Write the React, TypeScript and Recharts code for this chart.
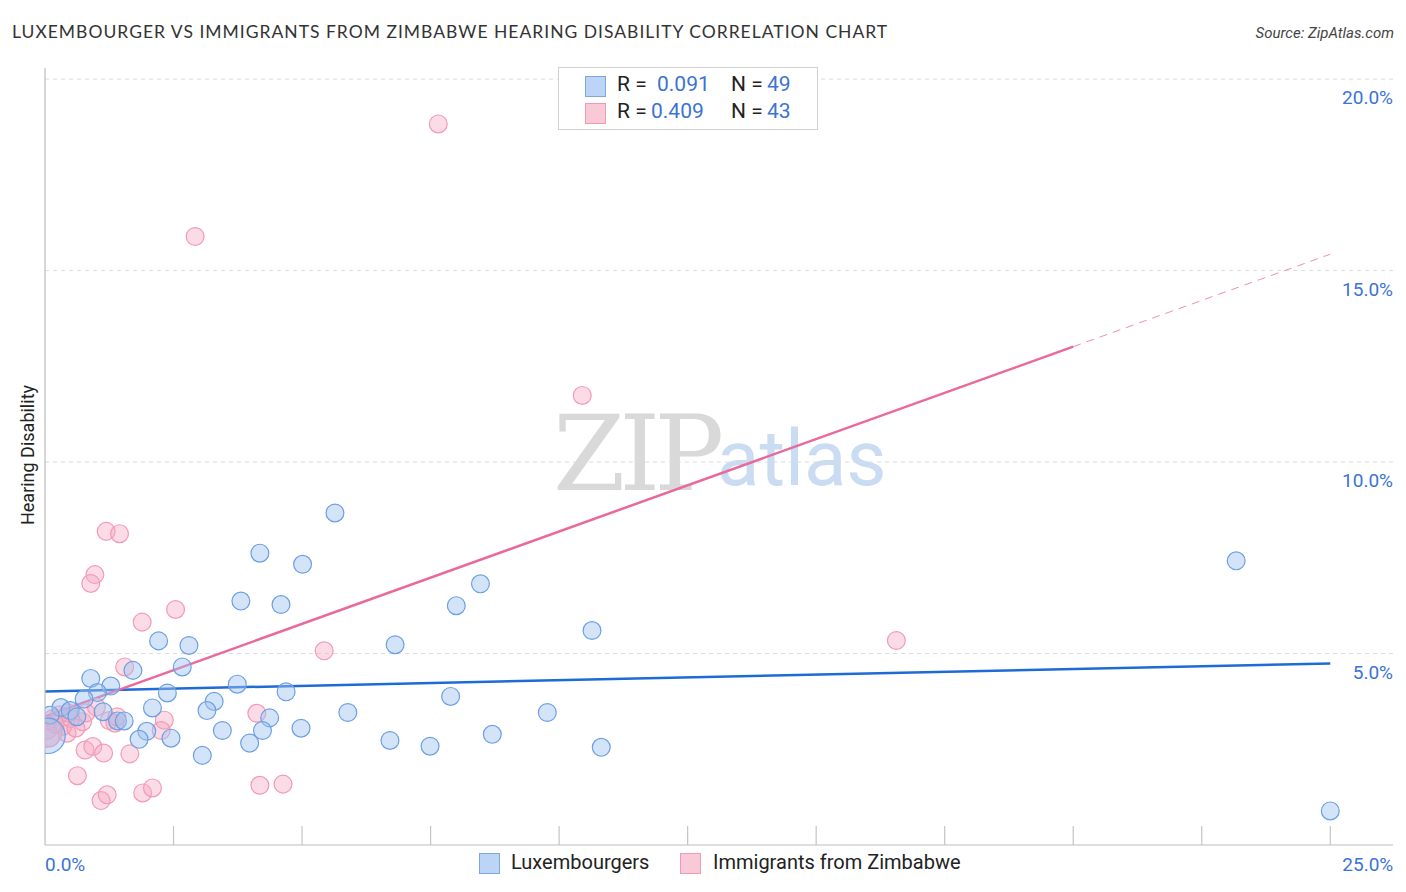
import React from 'react';
import {
    ScatterChart, Scatter, XAxis, YAxis, ZAxis, CartesianGrid, ReferenceLine
} from 'recharts';

// values (x = share of group %, y = hearing disability %)
const luxX = [5.64, 4.18, 5.01, 3.81, 4.59, 2.21, 2.80, 1.71, 2.67, 0.89, 3.74, 1.28, 1.02, 2.38, 4.69, 0.76, 2.09, 3.29, 3.15, 5.89, 4.37, 1.13, 1.41, 1.54, 3.45, 4.23, 4.98, 1.98, 1.83, 2.45, 3.98, 3.06, 6.81, 8.00, 8.47, 7.89, 6.71, 7.49, 8.70, 9.77, 10.64, 10.82, 23.17, 25.0, 0.31, 0.49, 0.10, 0.62, 0.05];
const luxY = [8.67, 7.62, 7.33, 6.37, 6.28, 5.33, 5.21, 4.56, 4.65, 4.35, 4.20, 4.15, 3.98, 3.97, 4.00, 3.81, 3.58, 3.75, 3.51, 3.46, 3.32, 3.48, 3.24, 3.24, 2.99, 2.99, 3.05, 2.97, 2.76, 2.79, 2.66, 2.34, 5.23, 6.25, 6.82, 3.88, 2.73, 2.58, 2.89, 3.46, 5.60, 2.55, 7.42, 0.89, 3.59, 3.51, 3.39, 3.35, 2.85];
const luxW = [1, 1, 1, 1, 1, 1, 1, 1, 1, 1, 1, 1, 1, 1, 1, 1, 1, 1, 1, 1, 1, 1, 1, 1, 1, 1, 1, 1, 1, 1, 1, 1, 1, 1, 1, 1, 1, 1, 1, 1, 1, 1, 1, 1, 1, 1, 1, 1, 4];

const zimX = [7.65, 2.92, 10.45, 16.56, 5.43, 4.12, 4.18, 4.63, 1.19, 1.45, 0.97, 0.89, 2.54, 1.89, 1.55, 2.32, 2.26, 0.78, 0.93, 1.14, 1.65, 0.63, 1.09, 1.21, 1.90, 2.09, 0.73, 1.36, 0.43, 0.15, 0.28, 0.05, 0.35, 0.50, 1.00, 0.80, 1.25, 0.10, 0.20, 1.40, 0.60, 0.03, 0.45];
const zimY = [18.83, 15.89, 11.74, 5.34, 5.07, 3.44, 1.56, 1.59, 8.19, 8.13, 7.06, 6.83, 6.15, 5.82, 4.65, 3.26, 2.99, 2.48, 2.57, 2.40, 2.38, 1.81, 1.16, 1.31, 1.36, 1.49, 3.22, 3.18, 2.92, 3.30, 3.40, 3.00, 3.10, 3.30, 3.60, 3.45, 3.25, 2.80, 3.15, 3.35, 3.05, 2.95, 3.45];
const zimW = [1, 1, 1, 1, 1, 1, 1, 1, 1, 1, 1, 1, 1, 1, 1, 1, 1, 1, 1, 1, 1, 1, 1, 1, 1, 1, 1, 1, 1, 1, 1, 1, 1, 1, 1, 1, 1, 1, 1, 1, 1, 3, 1];

// trend lines: [intercept, slope]
const luxTrend = [4.01, 0.0292];
const zimTrend = [3.36, 0.4827];

const xTicks = [0, 2.5, 5, 7.5, 10, 12.5, 15, 17.5, 20, 22.5, 25];
const yTicks = [0, 5, 10, 15, 20];

const luxData = luxX.map((x, i) => ({ x, y: luxY[i], z: luxW[i] }));
const zimData = zimX.map((x, i) => ({ x, y: zimY[i], z: zimW[i] }));
const at = (t: number[], x: number) => t[0] + t[1] * x;

const BLUE = '#3b73d6';
const FONT = 'Roboto, "Open Sans", sans-serif';

const XTick = (props: any) => {
    const { x, y, payload } = props;
    const v = payload.value;
    return (
        <g>
            {v > 0 && <line x1={x} x2={x} y1={y} y2={y - 19} stroke="#c4c4c4" strokeWidth={1.2} />}
            {v === 0 && <text x={x} y={y + 26} textAnchor="start" fill={BLUE} fontSize={19} fontFamily={FONT}>0.0%</text>}
            {v === 25 && <text x={x + 63} y={y + 26} textAnchor="end" fill={BLUE} fontSize={19} fontFamily={FONT}>25.0%</text>}
        </g>
    );
};

const YTick = (props: any) => {
    const { x, y, payload } = props;
    if (payload.value === 0) return null;
    return (
        <text x={x + 1348} y={y + 25} textAnchor="end" fill={BLUE} fontSize={19} fontFamily={FONT}>
            {payload.value.toFixed(1)}%
        </text>
    );
};

const sq = (fill: string, stroke: string) => ({
    display: 'inline-block', width: 19, height: 19, background: fill, border: `1px solid ${stroke}`,
});

export default function App() {
    return (
        <div style={{ position: 'absolute', left: 0, top: 0, width: 1406, height: 892, background: '#fff', fontFamily: FONT }}>
            <div style={{ position: 'absolute', left: 12, top: 21, fontSize: 17.5, color: '#333', fontFamily: 'Lato, sans-serif', letterSpacing: 1.0, whiteSpace: 'nowrap' }}>
                LUXEMBOURGER VS IMMIGRANTS FROM ZIMBABWE HEARING DISABILITY CORRELATION CHART
            </div>
            <div style={{ position: 'absolute', right: 12, top: 24, fontSize: 15, color: '#444', fontStyle: 'italic' }}>
                Source: ZipAtlas.com
            </div>
            <div style={{ position: 'absolute', left: 27, top: 455, transform: 'translate(-50%, -50%) rotate(-90deg)', fontSize: 18, color: '#222', whiteSpace: 'nowrap' }}>
                Hearing Disability
            </div>

            {/* watermark */}
            <div style={{ position: 'absolute', left: 553, top: 393, fontSize: 104, fontFamily: '"DejaVu Serif", serif', color: '#d9d9d9', letterSpacing: -6 }}>ZIP</div>
            <div style={{ position: 'absolute', left: 717, top: 413, fontSize: 78, fontFamily: FONT, color: '#c9dcf2' }}>atlas</div>

            <div style={{ position: 'absolute', left: 0, top: 0 }}>
                <ScatterChart width={1406} height={892} margin={{ top: 68, right: 13, bottom: 0, left: 0 }}>
                    <CartesianGrid vertical={false} strokeDasharray="4 4" stroke="#dcdcdc" horizontalValues={[5, 10, 15, 20]} />
                    <XAxis type="number" dataKey="x" domain={[0, 26.22]} ticks={xTicks} height={47} tickSize={0} tickMargin={0}
                        axisLine={{ stroke: '#bdbdbd', strokeWidth: 1.2 }} tickLine={false} tick={<XTick />} interval={0} allowDataOverflow />
                    <YAxis type="number" dataKey="y" domain={[0, 20.29]} ticks={yTicks} width={45} tickSize={0} tickMargin={0}
                        axisLine={{ stroke: '#bdbdbd', strokeWidth: 1.2 }} tickLine={false} tick={<YTick />} interval={0} allowDataOverflow />
                    <ZAxis type="number" dataKey="z" domain={[1, 4]} range={[250, 980]} />
                    <Scatter data={zimData} fill="rgba(246,170,195,0.42)" stroke="#f29ab7" strokeWidth={1.2} isAnimationActive={false} />
                    <Scatter data={luxData} fill="rgba(160,195,240,0.45)" stroke="#6d9fe3" strokeWidth={1.2} isAnimationActive={false} />
                    <ReferenceLine segment={[{ x: 0, y: at(luxTrend, 0) }, { x: 25, y: at(luxTrend, 25) }]} stroke="#1f6bd6" strokeWidth={2.5} ifOverflow="visible" />
                    <ReferenceLine segment={[{ x: 0, y: at(zimTrend, 0) }, { x: 20, y: at(zimTrend, 20) }]} stroke="#e9699b" strokeWidth={2.5} ifOverflow="visible" />
                    <ReferenceLine segment={[{ x: 20, y: at(zimTrend, 20) }, { x: 25, y: at(zimTrend, 25) }]} stroke="#ec8fb0" strokeWidth={1} strokeDasharray="8 6" ifOverflow="visible" />
                </ScatterChart>
            </div>

            {/* stats box */}
            <div style={{ position: 'absolute', left: 558, top: 67, width: 258, height: 61, border: '1px solid #d0d0d0', background: '#fff', fontSize: 21, color: '#222' }}>
                <div style={{ position: 'absolute', left: 26, top: 8, ...sq('#bcd5f6', '#7ea6e0') }} />
                <div style={{ position: 'absolute', left: 58, top: 4 }}>R = </div>
                <div style={{ position: 'absolute', left: 98, top: 4, color: BLUE }}>0.091</div>
                <div style={{ position: 'absolute', left: 172, top: 4 }}>N =</div>
                <div style={{ position: 'absolute', left: 208, top: 4, color: BLUE }}>49</div>
                <div style={{ position: 'absolute', left: 26, top: 35, ...sq('#fac9d8', '#f09ab6') }} />
                <div style={{ position: 'absolute', left: 58, top: 31 }}>R =</div>
                <div style={{ position: 'absolute', left: 92, top: 31, color: BLUE }}>0.409</div>
                <div style={{ position: 'absolute', left: 172, top: 31 }}>N =</div>
                <div style={{ position: 'absolute', left: 208, top: 31, color: BLUE }}>43</div>
            </div>

            {/* bottom legend */}
            <div style={{ position: 'absolute', left: 479, top: 853, ...sq('#bcd5f6', '#7ea6e0') }} />
            <div style={{ position: 'absolute', left: 511, top: 850, fontSize: 20, color: '#222' }}>Luxembourgers</div>
            <div style={{ position: 'absolute', left: 680, top: 853, ...sq('#fac9d8', '#f09ab6') }} />
            <div style={{ position: 'absolute', left: 713, top: 850, fontSize: 20, color: '#222' }}>Immigrants from Zimbabwe</div>
        </div>
    );
}
